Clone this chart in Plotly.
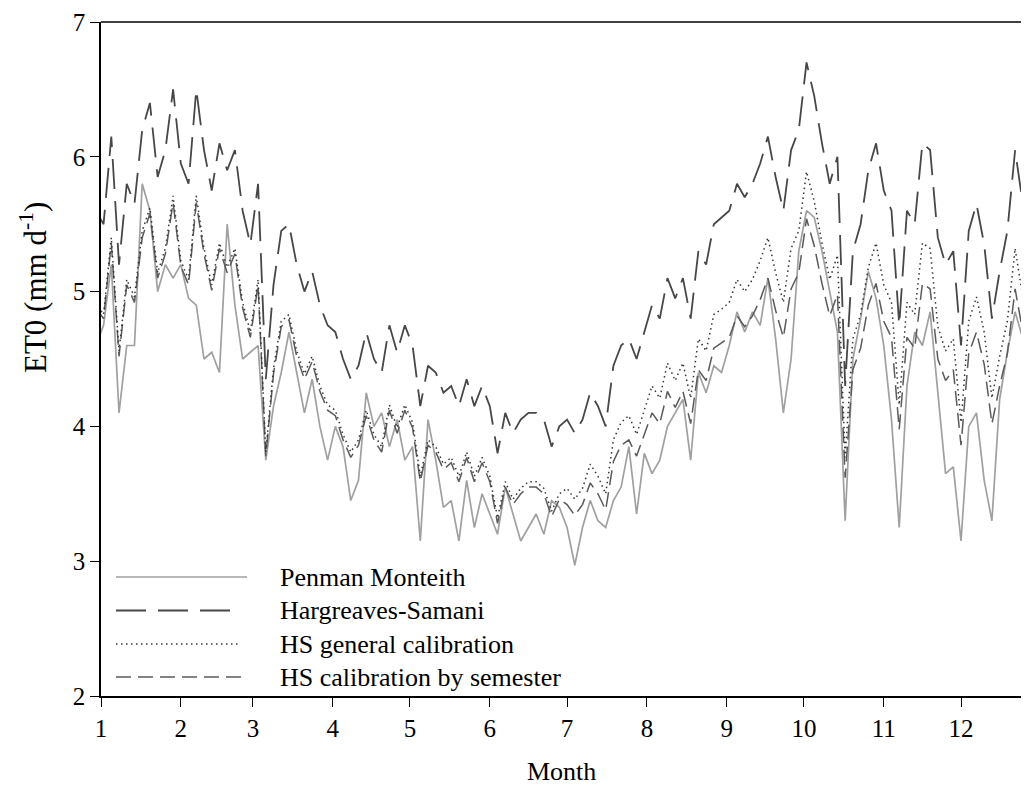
import plotly.graph_objects as go

FONT = "Liberation Serif"

# day of year for each reading (3-day sampling)
days = list(range(-1, 364, 3))

month_labels = ["1", "2", "3", "4", "5", "6", "7", "8", "9", "10", "11", "12"]
month_start_days = [1, 32, 60, 91, 121, 152, 182, 213, 244, 274, 305, 335]
y_ticks = [2, 3, 4, 5, 6, 7]

penman_monteith = [
    4.6, 4.75, 5.2, 4.1, 4.6, 4.6, 5.8, 5.6, 5.0, 5.2,
    5.1, 5.2, 4.95, 4.9, 4.5, 4.55, 4.4, 5.5, 4.9, 4.5,
    4.55, 4.6, 3.75, 4.15, 4.4, 4.7, 4.4, 4.1, 4.35, 4.0,
    3.75, 4.0, 3.85, 3.45, 3.6, 4.25, 4.0, 4.1, 3.85, 4.05,
    3.75, 3.85, 3.15, 4.05, 3.75, 3.4, 3.45, 3.15, 3.6, 3.25,
    3.5, 3.35, 3.2, 3.55, 3.35, 3.15, 3.25, 3.35, 3.2, 3.45,
    3.4, 3.25, 2.97, 3.25, 3.45, 3.3, 3.25, 3.45, 3.55, 3.85,
    3.35, 3.8, 3.65, 3.75, 4.0, 4.1, 4.2, 3.75, 4.4, 4.25,
    4.45, 4.4, 4.6, 4.85, 4.7, 4.85, 4.75, 5.1, 4.65, 4.1,
    4.5, 5.3, 5.6, 5.55, 5.3, 5.0, 4.7, 3.3, 4.5, 4.8,
    5.15, 4.95, 4.6, 4.05, 3.25, 4.3, 4.7, 4.6, 4.85, 4.25,
    3.65, 3.7, 3.15, 4.0, 4.1, 3.6, 3.3, 4.2, 4.55, 4.85,
    4.65, 4.7,
]

hargreaves_samani = [
    5.6, 5.5, 6.15, 5.2, 5.8, 5.65, 6.2, 6.4, 5.85, 6.05,
    6.5, 5.95, 5.8, 6.5, 6.05, 5.75, 6.1, 5.9, 6.05, 5.6,
    5.35, 5.8, 4.35, 5.05, 5.45, 5.5, 5.2, 5.0, 5.15, 4.9,
    4.75, 4.7, 4.5, 4.35, 4.45, 4.7, 4.5, 4.4, 4.75, 4.55,
    4.75, 4.6, 4.15, 4.45, 4.4, 4.25, 4.3, 4.15, 4.35, 4.15,
    4.3, 4.15, 3.8, 4.1, 3.95, 4.05, 4.1, 4.1, 4.05, 3.85,
    4.0, 4.05, 3.95, 4.05, 4.25, 4.15, 4.0, 4.45, 4.6, 4.65,
    4.5, 4.7, 4.9, 4.8, 5.1, 4.95, 5.1, 4.8, 5.3, 5.2,
    5.5, 5.55, 5.6, 5.8, 5.7, 5.8, 5.95, 6.15, 5.85, 5.6,
    6.05, 6.2, 6.7, 6.45, 6.1, 5.8, 6.0, 4.3, 5.3, 5.5,
    5.9, 6.1, 5.75, 5.6, 4.75, 5.6, 5.5, 6.1, 6.05, 5.4,
    5.2, 5.3, 4.6, 5.45, 5.65, 5.35, 4.8, 5.15, 5.45, 6.05,
    5.65, 5.35,
]

hs_general = [
    4.92, 4.83, 5.40, 4.56, 5.09, 4.96, 5.45, 5.62, 5.14, 5.32,
    5.71, 5.23, 5.09, 5.71, 5.32, 5.05, 5.36, 5.18, 5.32, 4.92,
    4.70, 5.09, 3.81, 4.43, 4.78, 4.83, 4.56, 4.39, 4.52, 4.30,
    4.16, 4.12, 3.94, 3.81, 3.90, 4.12, 3.94, 3.85, 4.16, 3.99,
    4.16, 4.03, 3.63, 3.90, 3.85, 3.72, 3.77, 3.63, 3.81, 3.63,
    3.77, 3.63, 3.32, 3.59, 3.46, 3.54, 3.59, 3.59, 3.54, 3.37,
    3.50, 3.54, 3.46, 3.54, 3.72, 3.63, 3.50, 3.90, 4.03, 4.08,
    3.94, 4.12, 4.30, 4.21, 4.47, 4.34, 4.47, 4.21, 4.65, 4.56,
    4.83, 4.87, 4.92, 5.09, 5.00, 5.09, 5.23, 5.40, 5.14, 4.92,
    5.32, 5.45, 5.89, 5.67, 5.36, 5.09, 5.27, 3.77, 4.65, 4.83,
    5.18, 5.36, 5.05, 4.92, 4.16, 4.92, 4.83, 5.36, 5.32, 4.74,
    4.56, 4.65, 4.03, 4.78, 4.96, 4.70, 4.21, 4.52, 4.78, 5.32,
    4.96, 4.70,
]

hs_semester = [
    4.88, 4.80, 5.36, 4.52, 5.05, 4.92, 5.40, 5.58, 5.10, 5.28,
    5.66, 5.19, 5.05, 5.66, 5.28, 5.01, 5.32, 5.14, 5.28, 4.88,
    4.66, 5.05, 3.78, 4.39, 4.74, 4.79, 4.52, 4.35, 4.48, 4.26,
    4.12, 4.08, 3.90, 3.77, 3.86, 4.08, 3.90, 3.81, 4.12, 3.95,
    4.12, 3.99, 3.59, 3.86, 3.81, 3.68, 3.73, 3.59, 3.77, 3.59,
    3.73, 3.59, 3.28, 3.55, 3.42, 3.50, 3.55, 3.55, 3.50, 3.33,
    3.46, 3.42, 3.34, 3.42, 3.58, 3.50, 3.38, 3.74, 3.86, 3.90,
    3.78, 3.94, 4.10, 4.02, 4.26, 4.14, 4.26, 4.02, 4.42, 4.34,
    4.58, 4.62, 4.66, 4.82, 4.74, 4.82, 4.94, 5.10, 4.86, 4.66,
    5.02, 5.14, 5.54, 5.34, 5.06, 4.82, 4.98, 3.62, 4.42, 4.58,
    4.90, 5.06, 4.78, 4.66, 3.98, 4.66, 4.58, 5.06, 5.02, 4.50,
    4.34, 4.42, 3.86, 4.54, 4.70, 4.46, 4.02, 4.30, 4.54, 5.02,
    4.70, 4.46,
]

series_names = ["Penman Monteith", "Hargreaves-Samani",
                "HS general calibration", "HS calibration by semester"]

styles = {
    "Penman Monteith": dict(color="#a0a0a0", width=1.7, dash="solid"),
    "Hargreaves-Samani": dict(color="#474747", width=1.8, dash="30px,12px"),
    "HS general calibration": dict(color="#333333", width=1.5, dash="1.5px,3.5px"),
    "HS calibration by semester": dict(color="#5a5a5a", width=1.5, dash="15px,7px"),
}
legend_line_end_px = {
    "Penman Monteith": 247,
    "Hargreaves-Samani": 236,
    "HS general calibration": 240,
    "HS calibration by semester": 247,
}

series_values = {
    "Penman Monteith": penman_monteith,
    "Hargreaves-Samani": hargreaves_samani,
    "HS general calibration": hs_general,
    "HS calibration by semester": hs_semester,
}

fig = go.Figure()
for name in ["Penman Monteith", "HS calibration by semester",
             "HS general calibration", "Hargreaves-Samani"]:
    fig.add_trace(go.Scatter(
        x=days, y=series_values[name], mode="lines", name=name,
        line=styles[name], showlegend=False,
    ))

# the page body has an 8px margin, so the figure is drawn 8px right/down
BODY = 8
W, H = 1029 - BODY, 798 - BODY
PLOT_L, PLOT_T, PLOT_B = 101, 22, 696      # plot box in screen pixels
ML, MT, MR = PLOT_L - BODY, PLOT_T - BODY, 0
MB = H + BODY - PLOT_B
PW = W - ML - MR
PH = H - MT - MB

def px_to_paper_x(px):
    return (px - PLOT_L) / PW

def py_to_paper_y(py):
    return (PLOT_B - py) / PH

shapes = []
annotations = []
# top border
shapes.append(dict(type="line", xref="paper", yref="paper", x0=0, x1=1, y0=1, y1=1,
                   line=dict(color="black", width=1.5)))

legend_rows_py = [577, 610.5, 644, 677]
for name, py in zip(series_names, legend_rows_py):
    st = styles[name]
    shapes.append(dict(type="line", xref="paper", yref="paper",
                       x0=px_to_paper_x(116), x1=px_to_paper_x(legend_line_end_px[name]),
                       y0=py_to_paper_y(py), y1=py_to_paper_y(py),
                       line=dict(color=st["color"], width=st["width"], dash=st["dash"])))
    annotations.append(dict(xref="paper", yref="paper", x=px_to_paper_x(278),
                            y=py_to_paper_y(py), text=name, showarrow=False,
                            xanchor="left", yanchor="middle",
                            font=dict(family=FONT, size=26, color="black")))

annotations.append(dict(xref="paper", yref="paper", x=px_to_paper_x(561),
                        y=py_to_paper_y(771), text="Month", showarrow=False,
                        xanchor="center", yanchor="middle",
                        font=dict(family=FONT, size=26, color="black")))
annotations.append(dict(xref="paper", yref="paper", x=px_to_paper_x(33),
                        y=py_to_paper_y(288), text="ET0 (mm d<sup>-1</sup>)",
                        showarrow=False, textangle=-90,
                        xanchor="center", yanchor="middle",
                        font=dict(family=FONT, size=31, color="black")))

fig.update_layout(
    width=W, height=H,
    margin=dict(l=ML, r=MR, t=MT, b=MB, autoexpand=False),
    paper_bgcolor="white", plot_bgcolor="white",
    shapes=shapes, annotations=annotations,
    showlegend=False,
)
fig.update_xaxes(
    range=[1, 361.4], tickmode="array", tickvals=month_start_days, ticktext=month_labels,
    ticks="outside", ticklen=9, tickwidth=1.3, tickcolor="black",
    showline=True, linecolor="black", linewidth=1.6,
    showgrid=False, zeroline=False, automargin=False,
    tickfont=dict(family=FONT, size=25, color="black"),
)
fig.update_yaxes(
    range=[2, 7], tickmode="array", tickvals=y_ticks,
    ticks="outside", ticklen=9, tickwidth=1.3, tickcolor="black",
    showline=True, linecolor="black", linewidth=1.6,
    showgrid=False, zeroline=False, automargin=False,
    tickfont=dict(family=FONT, size=25, color="black"),
)

fig.write_html("out.html")
